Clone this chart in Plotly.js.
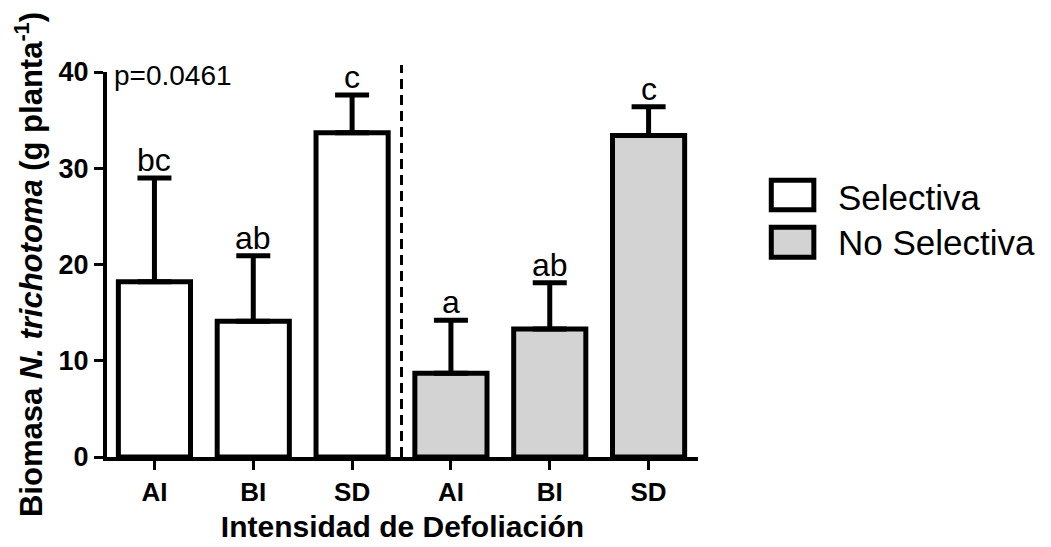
<!DOCTYPE html>
<html>
<head>
<meta charset="utf-8">
<script src="https://cdn.plot.ly/plotly-3.0.1.min.js"></script>
<style>html,body{margin:0;padding:0;background:#fff;}#chart{width:1051px;height:547px;}</style>
</head>
<body>
<div id="chart"></div>
<script>
const tickLabels = ["AI", "BI", "SD", "AI", "BI", "SD"];
const selectivaX = [0, 1, 2];
const selectivaMean = [18.2, 14.1, 33.7];
const selectivaErr = [10.8, 6.8, 3.9];
const selectivaLetters = ["bc", "ab", "c"];
const noSelectivaX = [3, 4, 5];
const noSelectivaMean = [8.7, 13.3, 33.4];
const noSelectivaErr = [5.5, 4.8, 3.0];
const noSelectivaLetters = ["a", "ab", "c"];
const pText = "p=0.0461";
const legendNames = ["Selectiva", "No Selectiva"];
const fills = ["#ffffff", "#d3d3d3"];

const F = "Liberation Sans, Arial, sans-serif";

function barTrace(name, x, y, e, fill) {
  return {
    type: "bar", name: name, x: x, y: y, width: 0.73,
    marker: {color: fill, line: {color: "#000", width: 5}},
    error_y: {type: "data", symmetric: false, array: e, arrayminus: e.map(() => 0),
      color: "#000", thickness: 5, width: 17},
    showlegend: false, hoverinfo: "skip"
  };
}

const traces = [
  barTrace(legendNames[0], selectivaX, selectivaMean, selectivaErr, fills[0]),
  barTrace(legendNames[1], noSelectivaX, noSelectivaMean, noSelectivaErr, fills[1])
];

const annotations = [];
function addLetters(x, y, e, letters) {
  x.forEach((xi, i) => annotations.push({
    x: xi, y: y[i] + e[i], xref: "x", yref: "y", text: letters[i], showarrow: false,
    yanchor: "bottom", yshift: -2, font: {family: F, size: 32, color: "#000"}
  }));
}
addLetters(selectivaX, selectivaMean, selectivaErr, selectivaLetters);
addLetters(noSelectivaX, noSelectivaMean, noSelectivaErr, noSelectivaLetters);
annotations.push({
  x: 0.008, y: 0.992, xref: "paper", yref: "paper", xanchor: "left", yanchor: "middle",
  text: pText, showarrow: false, font: {family: F, size: 28, color: "#000"}
});
// legend (drawn as shapes + text)
const legendTextY = [0.673, 0.556];
const legendBoxY = [[0.642, 0.719], [0.519, 0.597]];
legendNames.forEach((n, i) => annotations.push({
  x: 1.233, y: legendTextY[i], xref: "paper", yref: "paper", xanchor: "left", yanchor: "middle",
  text: n, showarrow: false, font: {family: F, size: 35, color: "#000"}
}));

const shapes = [
  {type: "line", xref: "x", yref: "paper", x0: 2.5, x1: 2.5, y0: 0, y1: 1.018,
   line: {color: "#000", width: 3, dash: "10px,6px"}}
];
legendNames.forEach((n, i) => shapes.push({
  type: "rect", xref: "paper", yref: "paper", x0: 1.124, x1: 1.196,
  y0: legendBoxY[i][0], y1: legendBoxY[i][1],
  fillcolor: fills[i], line: {color: "#000", width: 5}
}));

const layout = {
  width: 1051, height: 547,
  margin: {l: 107, r: 353, t: 72, b: 90},
  paper_bgcolor: "#fff", plot_bgcolor: "#fff",
  showlegend: false,
  xaxis: {
    range: [-0.48, 5.5], tickvals: [0, 1, 2, 3, 4, 5], ticktext: tickLabels,
    showgrid: false, zeroline: false, showline: true, linecolor: "#000", linewidth: 4,
    ticks: "outside", ticklen: 9, tickwidth: 3, tickcolor: "#000",
    tickfont: {family: F, size: 26, color: "#000", weight: "bold"},
    title: {text: "<b>Intensidad de Defoliación</b>", font: {family: F, size: 30, color: "#000"}, standoff: 11},
    fixedrange: true
  },
  yaxis: {
    range: [0, 40], tickvals: [0, 10, 20, 30, 40],
    showgrid: false, zeroline: false, showline: true, linecolor: "#000", linewidth: 4,
    ticks: "outside", ticklen: 9, tickwidth: 3, tickcolor: "#000",
    tickfont: {family: F, size: 27, color: "#000", weight: "bold"},
    title: {text: "<b>Biomasa <i>N. trichotoma</i> (g planta<sup>-1</sup>)</b>", font: {family: F, size: 31, color: "#000"}, standoff: 8},
    fixedrange: true
  },
  annotations: annotations,
  shapes: shapes,
  bargap: 0
};

Plotly.newPlot("chart", traces, layout, {displayModeBar: false, staticPlot: true});
</script>
</body>
</html>
